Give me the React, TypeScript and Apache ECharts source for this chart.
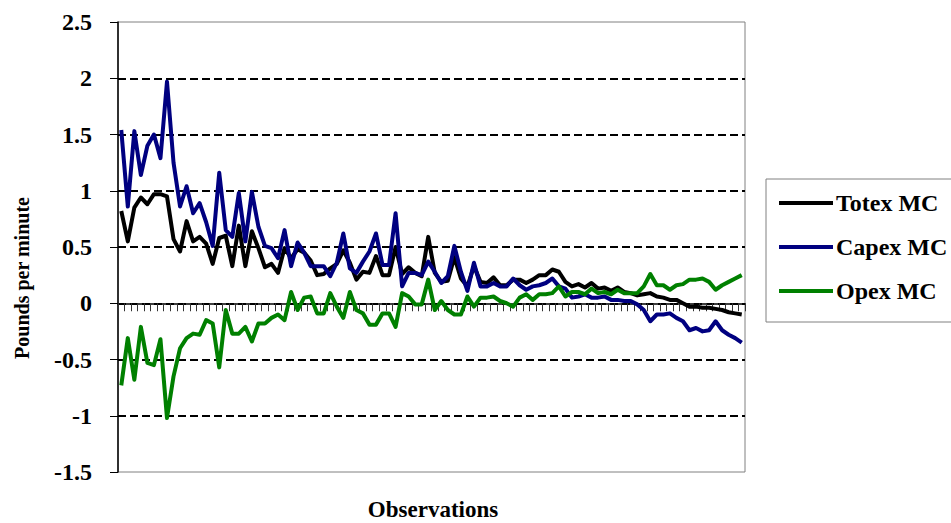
import React, { useEffect, useRef } from "react";
import * as echarts from "echarts";

const seriesNames = ["Totex MC", "Capex MC", "Opex MC"];
const seriesColors = ["#000000", "#000080", "#008000"];

const totex = [
  0.82, 0.55, 0.85, 0.94, 0.88, 0.97, 0.97, 0.95, 0.57, 0.46,
  0.73, 0.55, 0.59, 0.53, 0.35, 0.58, 0.6, 0.33, 0.69, 0.33,
  0.64, 0.49, 0.32, 0.35, 0.27, 0.49, 0.4, 0.48, 0.45, 0.38,
  0.25, 0.26, 0.31, 0.35, 0.47, 0.36, 0.21, 0.28, 0.27, 0.42,
  0.25, 0.25, 0.5, 0.26, 0.32, 0.27, 0.24, 0.59, 0.27, 0.19,
  0.2, 0.41, 0.22, 0.15, 0.33, 0.19, 0.18, 0.23, 0.16, 0.16,
  0.21, 0.21, 0.18, 0.21, 0.25, 0.25, 0.3, 0.28, 0.19, 0.15,
  0.17, 0.14, 0.18, 0.13, 0.14, 0.11, 0.14, 0.1, 0.09, 0.07,
  0.08, 0.09, 0.06, 0.05, 0.03, 0.03, 0.0, -0.03, -0.03, -0.04,
  -0.04, -0.05, -0.06, -0.08, -0.09, -0.1,
];

const capex = [
  1.54, 0.86, 1.53, 1.14, 1.4, 1.5, 1.29, 1.97, 1.25, 0.86,
  1.04, 0.8, 0.89, 0.72, 0.51, 1.16, 0.65, 0.59, 0.98, 0.55,
  0.99, 0.68, 0.51, 0.49, 0.4, 0.65, 0.33, 0.54, 0.45, 0.33,
  0.33, 0.33, 0.24, 0.36, 0.62, 0.31, 0.27, 0.37, 0.46, 0.62,
  0.34, 0.34, 0.8, 0.15, 0.27, 0.27, 0.25, 0.37, 0.28, 0.18,
  0.24, 0.51, 0.28, 0.11, 0.36, 0.15, 0.15, 0.18, 0.15, 0.15,
  0.22, 0.16, 0.12, 0.15, 0.16, 0.18, 0.22, 0.15, 0.13, 0.05,
  0.06, 0.08, 0.05, 0.05, 0.06, 0.03, 0.03, 0.02, 0.02, -0.01,
  -0.06, -0.16, -0.1, -0.1, -0.09, -0.13, -0.16, -0.24, -0.22, -0.25,
  -0.24, -0.16, -0.24, -0.28, -0.31, -0.35,
];

const opex = [
  -0.73, -0.31, -0.68, -0.21, -0.53, -0.55, -0.32, -1.02, -0.65, -0.4,
  -0.31, -0.27, -0.28, -0.15, -0.18, -0.57, -0.06, -0.27, -0.27, -0.21,
  -0.34, -0.18, -0.18, -0.13, -0.1, -0.15, 0.1, -0.06, 0.05, 0.06,
  -0.09, -0.09, 0.09, -0.03, -0.13, 0.1, -0.06, -0.09, -0.19, -0.19,
  -0.09, -0.09, -0.21, 0.09, 0.06, -0.01, -0.01, 0.21, -0.06, 0.02,
  -0.06, -0.1, -0.1, 0.06, -0.03, 0.05, 0.05, 0.06, 0.02, 0.0,
  -0.03, 0.05, 0.08, 0.03, 0.08, 0.08, 0.09, 0.15, 0.06, 0.1,
  0.1, 0.08, 0.13, 0.09, 0.1, 0.08, 0.12, 0.09, 0.09, 0.09,
  0.15, 0.26, 0.16, 0.16, 0.12, 0.16, 0.17, 0.21, 0.21, 0.22,
  0.19, 0.12, 0.16, 0.19, 0.22, 0.25,
];

const observations = totex.map((_, i) => String(i + 1));
const yAxisTitle = "Pounds per minute";
const xAxisTitle = "Observations";

const FONT = '"Liberation Serif", "Times New Roman", Times, serif';

export default function App() {
  const ref = useRef<HTMLDivElement>(null);

  useEffect(() => {
    if (!ref.current) return;
    const chart = echarts.init(ref.current, null, { renderer: "svg" });
    const values = [totex, capex, opex];
    chart.setOption({
      animation: false,
      backgroundColor: "#ffffff",
      grid: {
        left: 118,
        right: 206,
        top: 22,
        bottom: 51,
        show: true,
        borderColor: "#808080",
        borderWidth: 1,
        backgroundColor: "transparent",
      },
      legend: {
        orient: "vertical",
        left: 766,
        top: 179,
        padding: [12, 40, 19, 13],
        itemGap: 20,
        itemWidth: 54,
        itemHeight: 4,
        icon: "rect",
        borderColor: "#808080",
        borderWidth: 1,
        data: seriesNames,
        textStyle: {
          fontFamily: FONT,
          fontWeight: "bold",
          fontSize: 24,
          color: "#000",
          padding: [0, 0, 0, -2],
        },
      },
      xAxis: {
        type: "category",
        data: observations,
        boundaryGap: true,
        axisLine: { onZero: true, lineStyle: { color: "#000", width: 1.5 } },
        axisTick: {
          show: true,
          interval: 0,
          length: 8,
          lineStyle: { color: "#333", width: 1 },
        },
        axisLabel: { show: false },
        splitLine: { show: false },
      },
      yAxis: {
        type: "value",
        min: -1.5,
        max: 2.5,
        interval: 0.5,
        axisLine: { show: true, onZero: false, lineStyle: { color: "#000", width: 1.5 } },
        axisTick: { show: true, length: 8, lineStyle: { color: "#000", width: 1 } },
        axisLabel: {
          margin: 26,
          fontFamily: FONT,
          fontWeight: "bold",
          fontSize: 24,
          color: "#000",
        },
        splitLine: {
          show: true,
          showMinLine: false,
          showMaxLine: false,
          lineStyle: { color: "#000", width: 2, type: [8, 4] },
        },
      },
      series: seriesNames.map((name, k) => ({
        name,
        type: "line",
        data: values[k],
        symbol: "none",
        showSymbol: false,
        lineStyle: { color: seriesColors[k], width: 4, join: "round" },
        itemStyle: { color: seriesColors[k] },
        z: 3 + k,
      })),
      graphic: [
        {
          type: "text",
          x: 22,
          y: 278,
          rotation: Math.PI / 2,
          style: {
            text: yAxisTitle,
            font: `bold 20px ${FONT}`,
            fill: "#000",
            textAlign: "center",
            textVerticalAlign: "middle",
          },
        },
        {
          type: "text",
          x: 433,
          y: 509,
          style: {
            text: xAxisTitle,
            font: `bold 23px ${FONT}`,
            fill: "#000",
            textAlign: "center",
            textVerticalAlign: "middle",
          },
        },
      ],
    });
    return () => chart.dispose();
  }, []);

  return (
    <div
      ref={ref}
      style={{ position: "fixed", left: 0, top: 0, width: 951, height: 523, background: "#fff" }}
    />
  );
}
